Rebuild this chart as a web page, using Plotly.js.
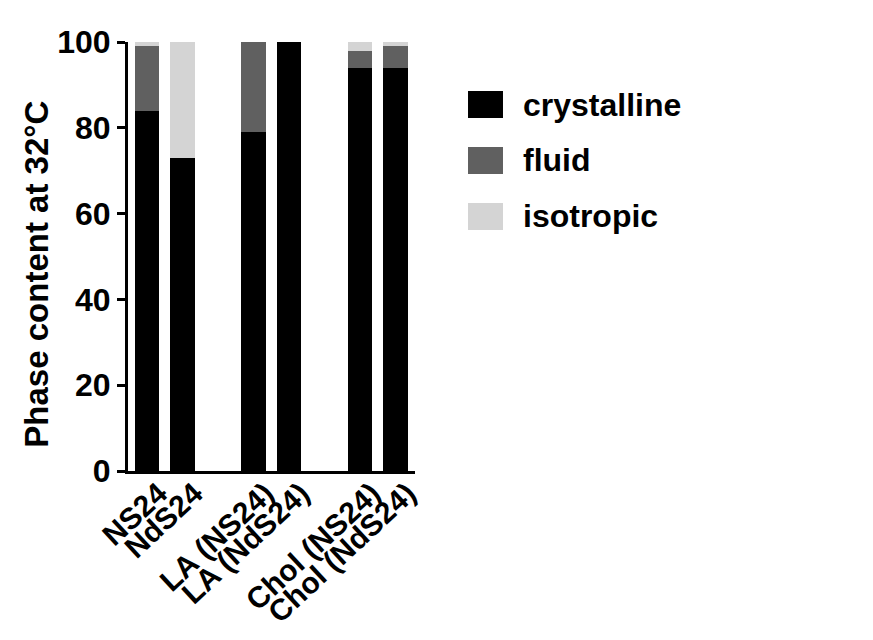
<!DOCTYPE html>
<html>
<head>
<meta charset="utf-8">
<script src="https://cdn.plot.ly/plotly-3.0.1.min.js"></script>
<style>html,body{margin:0;padding:0;background:#fff;}#chart{width:873px;height:640px;}</style>
</head>
<body>
<div id="chart"></div>
<script>
var categories = ["NS24", "NdS24", "LA (NS24)", "LA (NdS24)", "Chol (NS24)", "Chol (NdS24)"];
var slots = [0, 1, 3, 4, 6, 7];
var crystalline = [84, 73, 79, 100, 94, 94];
var fluid = [15, 0, 21, 0, 4, 5];
var isotropic = [1, 27, 0, 0, 2, 1];
var seriesNames = ["crystalline", "fluid", "isotropic"];
var seriesColors = ["#000000", "#606060", "#d4d4d4"];
var yTicks = [0, 20, 40, 60, 80, 100];
var yTitle = "Phase content at 32°C";

var F = {family: "Liberation Sans, Arial, sans-serif", size: 32, color: "#000", weight: "bold"};
var FX = {family: "Liberation Sans, Arial, sans-serif", size: 30, color: "#000", weight: "bold"};
var FT = {family: "Liberation Sans, Arial, sans-serif", size: 33, color: "#000", weight: "bold"};
var seriesData = [crystalline, fluid, isotropic];
var traces = seriesData.map(function (vals, i) {
  return {
    type: "bar", x: slots, y: vals, name: seriesNames[i],
    marker: {color: seriesColors[i], line: {width: 0}},
    width: 0.69, showlegend: false, hoverinfo: "skip"
  };
});

var shapes = [], annotations = [];
var legX0 = 1.1847, legX1 = 1.3066, legTop = 0.8858, legH = 0.063, legStep = 0.1305;
seriesNames.forEach(function (n, i) {
  var top = legTop - i * legStep;
  shapes.push({type: "rect", xref: "paper", yref: "paper", x0: legX0, x1: legX1, y0: top - legH, y1: top,
    fillcolor: seriesColors[i], line: {width: 0}});
  annotations.push({xref: "paper", yref: "paper", x: 1.37, y: top - legH / 2, xanchor: "left", yanchor: "middle",
    text: n, showarrow: false, font: F});
});
annotations.push({xref: "paper", yref: "paper", x: -0.32, y: 0.458, xanchor: "center", yanchor: "middle",
  textangle: -90, text: yTitle, showarrow: false, font: FT});

var layout = {
  width: 873, height: 640,
  margin: {l: 128, r: 458, t: 42, b: 169},
  paper_bgcolor: "#fff", plot_bgcolor: "#fff",
  barmode: "stack", bargap: 0,
  font: F,
  xaxis: {
    range: [-0.535, 7.55], tickvals: slots, ticktext: categories, tickangle: -43,
    ticklabelshift: 12, ticklabelstandoff: -10,
    showline: true, linecolor: "#000", linewidth: 3, ticks: "", showgrid: false, zeroline: false,
    tickfont: FX, fixedrange: true
  },
  yaxis: {
    range: [0, 100], tickvals: yTicks, ticks: "outside", ticklen: 8, tickwidth: 3, tickcolor: "#000",
    showline: true, linecolor: "#000", linewidth: 3, showgrid: false, zeroline: false,
    tickfont: F, fixedrange: true
  },
  shapes: shapes, annotations: annotations, showlegend: false
};
Plotly.newPlot("chart", traces, layout, {displayModeBar: false, staticPlot: true});
</script>
</body>
</html>
